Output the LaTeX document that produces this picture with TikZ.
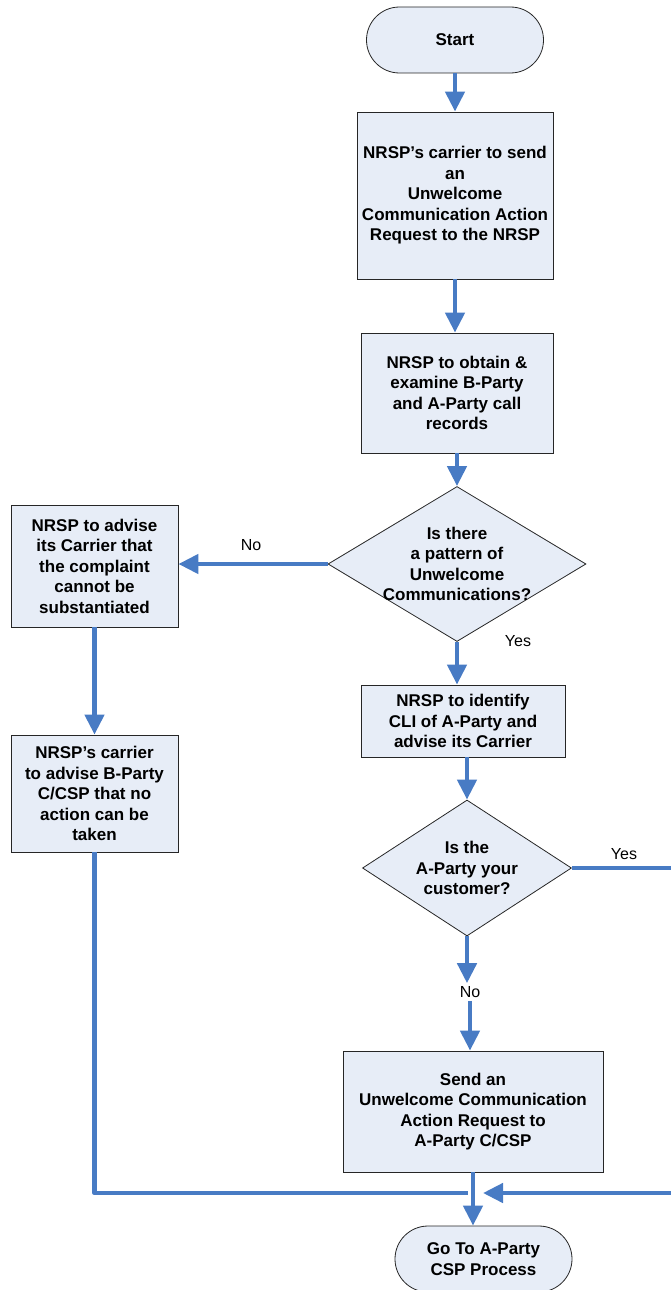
\documentclass[tikz,border=0pt]{standalone}
\usepackage{fontspec}
\setmainfont{Liberation Sans}
\usetikzlibrary{arrows.meta,shapes.geometric}
\definecolor{boxfill}{RGB}{231,237,247}
\definecolor{connc}{RGB}{72,123,196}
\begin{document}
\begin{tikzpicture}[x=1pt,y=-1pt,
  base/.style={draw=black!85,line width=0.8pt,fill=boxfill,inner sep=0pt},
  txt/.style={font=\fontsize{17}{20.5}\selectfont\bfseries,align=center,inner sep=0pt},
  proc/.style={base,txt,rectangle},
  term/.style={base,txt,rectangle,rounded corners=33pt,minimum width=177pt,minimum height=66pt},
  dec/.style={base,diamond},
  lab/.style={font=\fontsize{16}{19}\selectfont,inner sep=3pt},
  conn/.style={draw=connc,line width=4.5pt,line join=round},
  arr/.style={conn,-{Triangle[width=19pt,length=20pt]}}
]
\useasboundingbox (0,0) rectangle (670,1290);

% nodes
\node[term] (start) at (455,40) {Start};
\node[proc,minimum width=196pt,minimum height=167pt] (b1) at (455,195.5)
  {NRSP’s carrier to send\\an\\Unwelcome\\Communication Action\\Request to the NRSP};
\node[proc,minimum width=192pt,minimum height=120pt] (b2) at (457,393)
  {NRSP to obtain \&\\examine B-Party\\and A-Party call\\records};
\node[dec,minimum width=258pt,minimum height=155pt] (d1) at (457,564) {};
\node[txt] (d1t) at (d1) {Is there\\a pattern of\\Unwelcome\\Communications?};
\node[proc,minimum width=167pt,minimum height=122pt] (l1) at (94.5,566)
  {NRSP to advise\\its Carrier that\\the complaint\\cannot be\\substantiated};
\node[proc,minimum width=167pt,minimum height=117pt] (l2) at (94.5,793.5)
  {NRSP’s carrier\\to advise B-Party\\C/CSP that no\\action can be\\taken};
\node[proc,minimum width=204pt,minimum height=72pt] (b3) at (463,721)
  {NRSP to identify\\CLI of A-Party and\\advise its Carrier};
\node[dec,minimum width=209pt,minimum height=136pt] (d2) at (467,868) {};
\node[txt] (d2t) at (d2) {Is the\\A-Party your\\customer?};
\node[proc,minimum width=260pt,minimum height=121pt] (b4) at (473,1111.5)
  {Send an\\Unwelcome Communication\\Action Request to\\A-Party C/CSP};
\node[term] (end) at (483.5,1259) {Go To A-Party\\CSP Process};

% labels
\node[lab] (no1) at (251,545) {No};
\node[lab] (yes1) at (518,641) {Yes};
\node[lab] (yes2) at (624,854) {Yes};
\node[lab] (no2) at (470,992) {No};

% helper coordinates
\coordinate (jl) at (468,1193);
\coordinate (rt) at (684,1193);
\coordinate (rtip) at (483,1193);

% connectors
\draw[arr] (start.south) -- (b1.north);
\draw[arr] (b1.south) -- (b1.south |- b2.north);
\draw[arr] (b2.south) -- (d1.north);
\draw[arr] (d1.west) -- (d1.west -| l1.east);
\draw[arr] (d1.south) -- (d1.south |- b3.north);
\draw[arr] (b3.south -| d2.north) -- (d2.north);
\draw[arr] (l1.south) -- (l2.north);
\draw[conn] (l2.south) |- (jl);
\draw[arr] (d2.south) -- (d2.south |- no2.north);
\draw[arr] (no2.south) -- (no2.south |- b4.north);
\draw[arr] (d2.east) -| (rt) -- (rtip);
\draw[arr] (b4.south) -- (b4.south |- end.north);
\end{tikzpicture}
\end{document}
